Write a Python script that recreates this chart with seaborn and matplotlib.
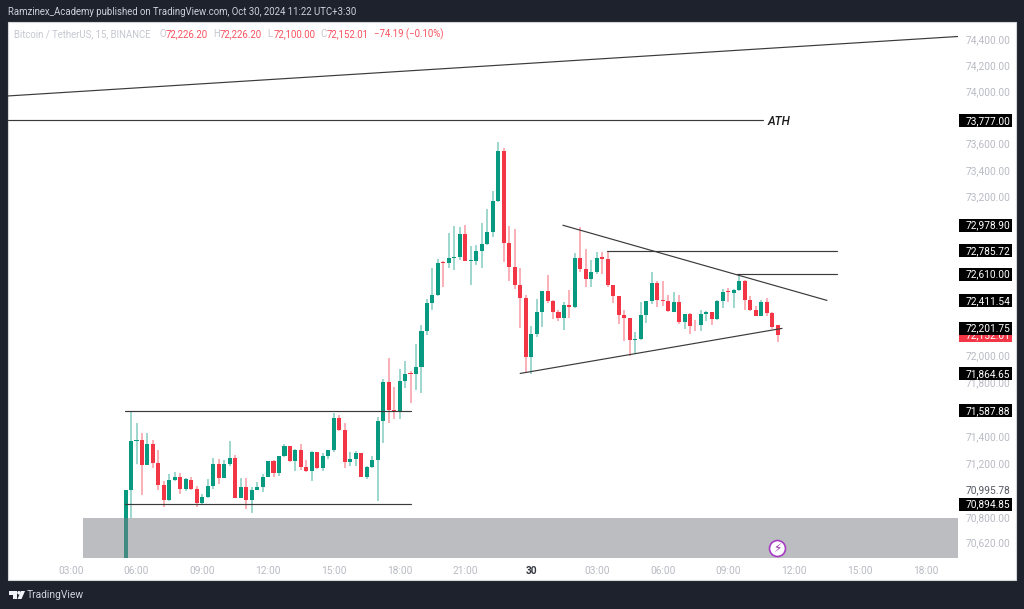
import numpy as np
import pandas as pd
import seaborn as sns
from matplotlib import pyplot as plt
from matplotlib.patches import Circle, Polygon, Rectangle
from matplotlib.ticker import NullLocator
from matplotlib.transforms import IdentityTransform

GREEN = "#089981"
RED = "#f23645"
DARK = "#1e222d"
TICK = "#b9bbc3"
LINE = "#3a3a3a"

# 15 minute candles, first one is two bars before the 06:00 tick
opens = [70490, 70998, 71364, 71367, 71183, 71337, 71200, 71035, 70928, 71075, 71100, 71007, 71075, 71009, 70905, 70946,
         71030, 71190, 71092, 71195, 71240, 70943, 71025, 70926, 71004, 71019, 71100, 71213, 71125, 71250, 71326, 71218,
         71293, 71168, 71138, 71281, 71160, 71255, 71293, 71533, 71442, 71210, 71228, 71271, 71095, 71168, 71220,
         71508, 71800, 71594, 71586, 71810, 71867, 71859, 71914, 72183, 72393, 72451, 72700, 72690, 72730, 72737, 72913,
         72710, 72712, 72785, 72840, 72925, 73160, 73544, 72848, 72664, 72524, 72431, 71985, 72163, 72328, 72479, 72408,
         72325, 72278, 72378, 72363, 72730, 72647, 72572, 72624, 72735, 72727,
         72531, 72443, 72303, 72280, 72112, 72125, 72300, 72406, 72544, 72418, 72408, 72328, 72396, 72248, 72313, 72230,
         72225, 72308, 72323, 72273, 72408, 72479, 72471, 72489, 72556, 72413, 72338, 72295, 72403, 72315, 72226.20]
highs = [70998, 71580, 71498, 71425, 71422, 71372, 71296, 71070, 71120, 71130, 71125, 71090, 71095, 71030, 70968, 71080,
         71240, 71230, 71225, 71362, 71261, 71090, 71090, 71019, 71060, 71115, 71213, 71220, 71255, 71337, 71327, 71301,
         71337, 71225, 71286, 71283, 71276, 71293, 71573, 71558, 71493, 71281, 71288, 71271, 71180, 71255, 71538,
         71820, 71979, 71765, 71897, 71959, 71884, 72088, 72229, 72426, 72652, 72727, 72707, 72918, 72970, 72963, 72978,
         72820, 72828, 72993, 73104, 73240, 73609, 73564, 72973, 72948, 72659, 72451, 72220, 72421, 72484, 72602, 72418,
         72338, 72403, 72489, 72772, 72968, 72800, 72715, 72780, 72780, 72778,
         72531, 72443, 72343, 72280, 72175, 72403, 72406, 72624, 72559, 72559, 72451, 72474, 72451, 72313, 72318, 72268,
         72338, 72333, 72323, 72413, 72494, 72504, 72494, 72599, 72564, 72443, 72368, 72418, 72433, 72325, 72226.20]
lows = [70490, 70792, 71195, 70961, 71183, 71165, 70998, 70878, 70923, 71070, 70973, 70993, 70998, 70878, 70898, 70943,
        71007, 71045, 71087, 71175, 70938, 70943, 70858, 70828, 70999, 70986, 71095, 71095, 71105, 71245, 71208, 71140,
        71150, 71132, 71070, 71158, 71140, 71230, 71283, 71437, 71160, 71180, 71180, 71095, 71085, 71160, 70923,
        71347, 71493, 71523, 71523, 71755, 71644, 71740, 71720, 72153, 72343, 72443, 72509, 72657, 72644, 72715, 72705,
        72524, 72677, 72659, 72828, 72891, 73158, 72700, 72557, 72499, 72206, 71872, 71857, 72138, 72212, 72393, 72270,
        72258, 72188, 72280, 72356, 72629, 72509, 72509, 72607, 72614, 72509,
        72393, 72238, 72107, 71992, 72007, 72117, 72243, 72388, 72363, 72368, 72323, 72323, 72233, 72195, 72162, 72180,
        72180, 72258, 72228, 72263, 72351, 72401, 72356, 72484, 72338, 72333, 72293, 72293, 72293, 72200, 72100.00]
closes = [70998, 71362, 71372, 71183, 71337, 71200, 71035, 70928, 71075, 71100, 71007, 71080, 71009, 70905, 70946, 71030,
          71190, 71092, 71195, 71240, 70943, 71025, 70926, 71004, 71019, 71100, 71213, 71125, 71250, 71326, 71218, 71293,
          71168, 71138, 71281, 71160, 71255, 71293, 71533, 71442, 71210, 71228, 71271, 71095, 71168, 71220, 71508,
          71800, 71594, 71580, 71810, 71859, 71859, 71914, 72183, 72393, 72451, 72697, 72690, 72730, 72737, 72913, 72710,
          72717, 72785, 72840, 72925, 73160, 73544, 72848, 72664, 72524, 72431, 71985, 72163, 72328, 72479, 72408, 72325,
          72278, 72378, 72363, 72730, 72647, 72572, 72624, 72730, 72727, 72531,
          72443, 72303, 72280, 72112, 72125, 72300, 72406, 72544, 72413, 72408, 72333, 72396, 72248, 72313, 72223, 72225,
          72308, 72325, 72273, 72408, 72474, 72474, 72489, 72556, 72413, 72338, 72295, 72403, 72315, 72212, 72152.01]

# drawn lines: name, bar start, bar end, price start, price end
line_names = ["rising", "ath", "box_top", "box_bottom", "triangle_top", "triangle_bottom", "res_1", "res_2"]
line_x0 = [-23.45, -23.45, -2.1, -2.1, 77.8, 70, 85.9, 109.6]
line_x1 = [149.9, 114.3, 50.1, 50.1, 126, 117.8, 127.8, 127.8]
line_p0 = [73965, 73777.00, 71587.88, 70894.85, 72978.90, 71864.65, 72785.72, 72610.00]
line_p1 = [74423, 73777.00, 71587.88, 70894.85, 72411.54, 72201.75, 72785.72, 72610.00]

price_ticks = [74400, 74200, 74000, 73600, 73400, 73200, 72000, 71800, 71400, 71200, 70800, 70620]
badge_prices = [73777.00, 72978.90, 72785.72, 72610.00, 72411.54, 72152.01, 72201.75, 71864.65, 71587.88, 70894.85]
time_labels = ["03:00", "06:00", "09:00", "12:00", "15:00", "18:00", "21:00", "30",
               "03:00", "06:00", "09:00", "12:00", "15:00", "18:00"]
ohlc_text = [("O", "72,226.20"), ("H", "72,226.20"), ("L", "72,100.00"), ("C", "72,152.01")]

df = pd.DataFrame({"open": opens, "high": highs, "low": lows, "close": closes})
df["bar"] = np.arange(len(df)) - 2
df["up"] = df["close"] >= df["open"]

lines_df = pd.DataFrame({
    "name": line_names * 2,
    "bar": line_x0 + line_x1,
    "price": line_p0 + line_p1,
})

sns.set_theme(style="white")
plt.rcParams["font.family"] = ["Roboto", "DejaVu Sans"]

W, H = 1024, 609
fig = plt.figure(figsize=(W / 100, H / 100), dpi=100, facecolor=DARK)
fig.add_artist(Rectangle((8, H - 580), 1007.5, 558, transform=IdentityTransform(), facecolor="white",
                         edgecolor="#d5d6da", linewidth=0.8, zorder=-5))
ax = fig.add_axes([8 / W, (H - 558) / H, 950 / W, 536 / H], facecolor="none")
ax.set_yscale("log")

colors = df["up"].map({True: GREEN, False: RED})
ax.vlines(df["bar"], df["low"], df["high"], colors=colors, alpha=0.5, linewidth=1.1, zorder=2)
ax.bar(df["bar"], (df["close"] - df["open"]).abs(), bottom=df[["open", "close"]].min(axis=1), width=0.74,
       color=colors, linewidth=0, zorder=3)

sns.lineplot(lines_df, x="bar", y="price", units="name", estimator=None, color=LINE, linewidth=0.85,
             zorder=4, ax=ax)

ax.set_xlim(-23.45, 149.9)
ax.set_ylim(70501, 74535)
ax.axhspan(70501, 70794, xmin=(-9.8 + 23.45) / 173.35, xmax=1, color="#7b7c83", alpha=0.5, linewidth=0, zorder=5)

ax.set_xlabel("")
ax.set_ylabel("")
for s in ax.spines.values():
    s.set_visible(False)

ax.yaxis.tick_right()
ax.yaxis.set_minor_locator(NullLocator())
ax.set_yticks(price_ticks, [f"{p:,.2f}" for p in price_ticks])
ax.tick_params(axis="y", length=0, pad=5.8, labelsize=7.3, labelcolor=TICK)
ax.set_xticks(np.arange(len(time_labels)) * 12 - 12, time_labels)
ax.tick_params(axis="x", length=0, pad=5.5, labelsize=7.3, labelcolor=TICK)
for lab in ax.get_xticklabels():
    if lab.get_text() == "30":
        lab.set_color("#333640")
        lab.set_fontweight("bold")

ax.text(114.3 + 0.9, 73770, "ATH", style="italic", fontweight="medium", fontsize=8.6, color="#1a1a1a",
        va="center", ha="left", zorder=6)

# price badges on the axis, later ones sit on top
for n, p in enumerate(badge_prices):
    y_px = ax.transData.transform((0, p))[1]
    face = RED if p == 72152.01 else "black"
    fig.add_artist(Rectangle((959, y_px - 6.5), 53, 13, transform=IdentityTransform(), facecolor=face,
                             edgecolor="none", zorder=7 + 2 * n))
    fig.text(966, y_px - 0.3, f"{p:,.2f}", transform=IdentityTransform(), color="white", fontsize=7.3,
             va="center", ha="left", zorder=8 + 2 * n)
fig.text(966, H - 490.5, "70,995.78", transform=IdentityTransform(), color="#555861", fontsize=7.3,
         va="center", ha="left", zorder=8)

# alert icon on the grey zone
ax.plot([116.9], [70574], marker="o", markersize=11.5, markerfacecolor="white", markeredgecolor="#a63cc4",
        markeredgewidth=1.2, linestyle="none", zorder=6)
ax.text(116.9, 70574, "\u26a1", fontsize=8.5, color="#9c27b0", ha="center", va="center", zorder=7,
        family=["DejaVu Sans"])


def px_text(x, y, s, color, size=6.9, **kw):
    return fig.text(x, H - y, s, transform=IdentityTransform(), color=color, fontsize=size, va="center", ha="left", **kw)


# header
px_text(8, 12, "Ramzinex_Academy published on TradingView.com, Oct 30, 2024 11:22 UTC+3:30", "#cdd0d8")
px_text(14, 34, "Bitcoin / TetherUS, 15, BINANCE", "#c6c8d0")
val_red = "#f7525f"
for (letter, value), x in zip(ohlc_text, [159.5, 213, 267, 320]):
    px_text(x, 34, letter, "#c6c8d0")
    px_text(x + 6.5, 34, value, val_red)
px_text(374, 34, "\u221274.19 (\u22120.10%)", val_red)

# footer logo and name
logo = [
    Polygon([(8.5, H - 591), (16.5, H - 591), (16.5, H - 599), (13, H - 599), (13, H - 594.5), (8.5, H - 594.5)], closed=True),
    Circle((19, H - 592.8), 1.8),
    Polygon([(21, H - 591), (25, H - 591), (21.5, H - 599), (17.5, H - 599)], closed=True),
]
for p in logo:
    p.set_transform(IdentityTransform())
    p.set_facecolor("#f0f3fa")
    p.set_edgecolor("none")
    fig.add_artist(p)
px_text(27, 595, "TradingView", "#d1d4dc", size=7.4)

fig.savefig("out.png", dpi=100, facecolor=DARK)
